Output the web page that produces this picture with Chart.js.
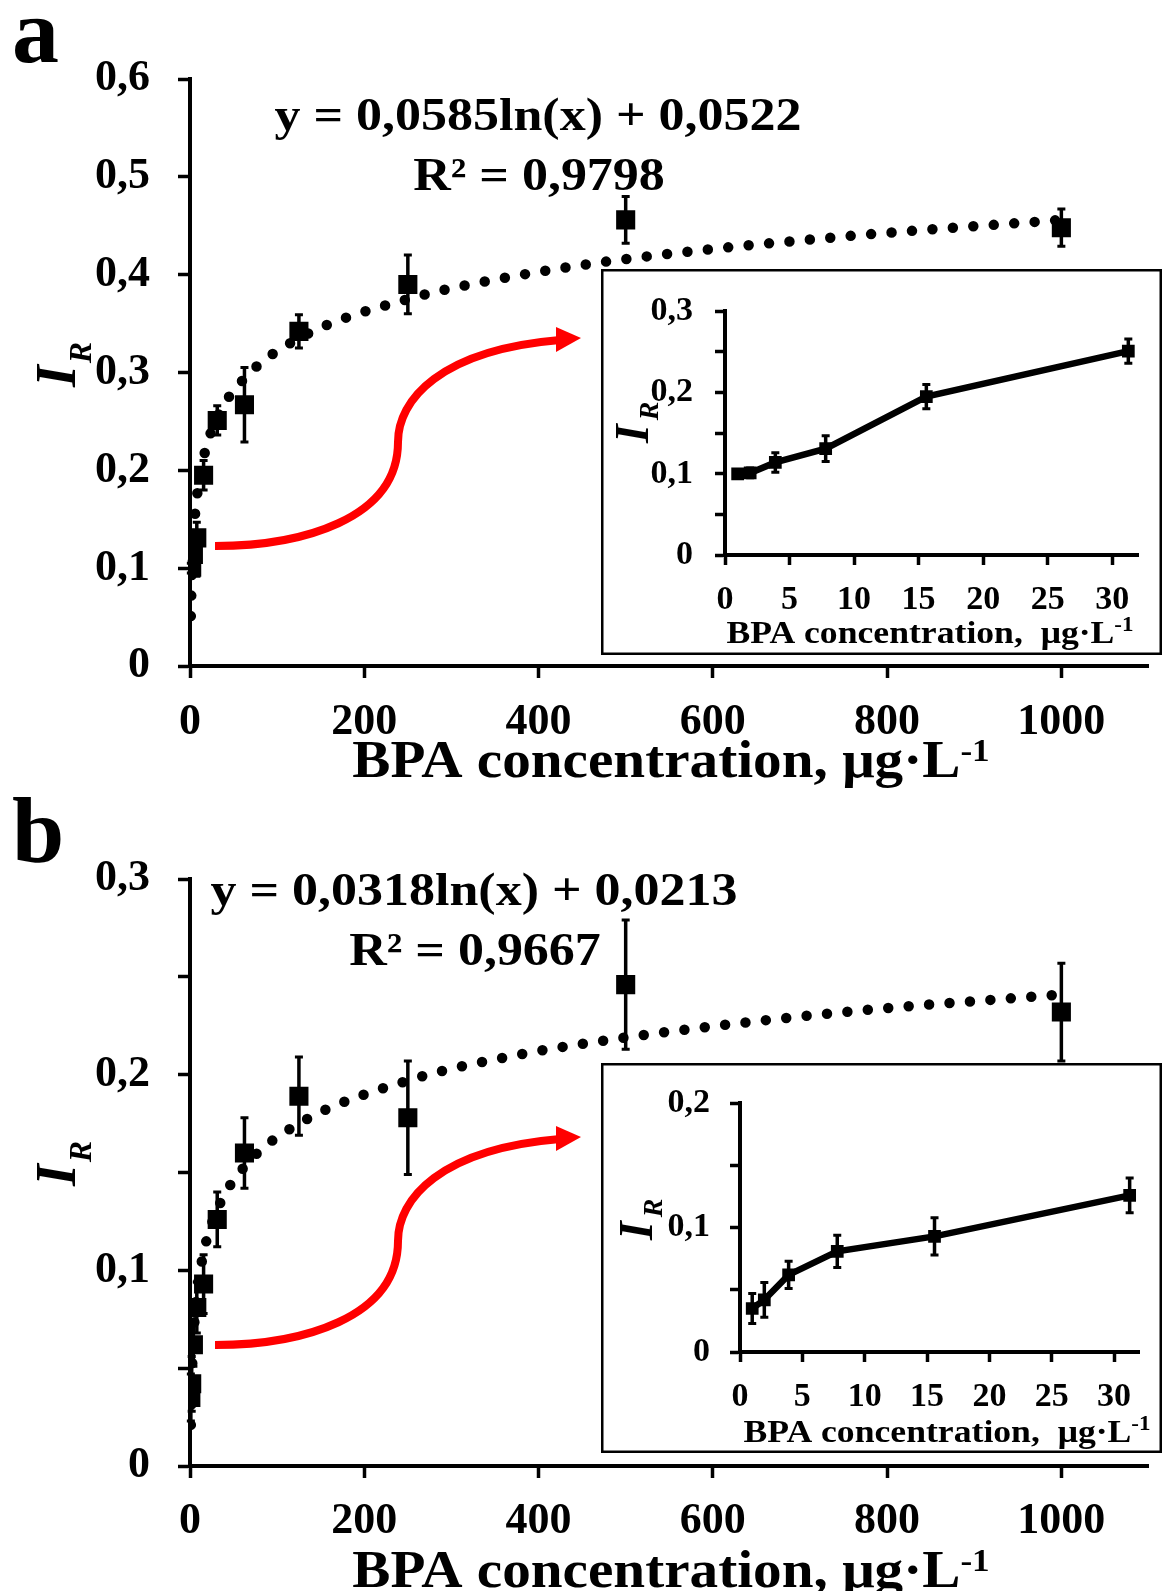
<!DOCTYPE html>
<html>
<head>
<meta charset="utf-8">
<script src="https://cdn.jsdelivr.net/npm/chart.js@4.4.1/dist/chart.umd.min.js"></script>
<style>
  html, body { margin: 0; padding: 0; background: #fff; }
  #page { position: relative; width: 1162px; height: 1591px; overflow: hidden; background: #fff; }
  canvas { position: absolute; }
  #mainA { left: 0; top: 0; }
  #mainB { left: 0; top: 790px; }
  #insetA { left: 601px; top: 269px; background: #fff; }
  #insetB { left: 601px; top: 1063px; background: #fff; }
</style>
</head>
<body>
<div id="page">
  <canvas id="mainA" width="1162" height="800"></canvas>
  <canvas id="mainB" width="1162" height="801"></canvas>
  <canvas id="insetA" width="561" height="386"></canvas>
  <canvas id="insetB" width="561" height="390"></canvas>
</div>
<script>
const SERIF = '"Liberation Serif", "Times New Roman", serif';

// BPA concentrations, µg/L
const conc = [0.98, 1.95, 3.9, 7.8, 15.6, 31.25, 62.5, 125, 250, 500, 1000];

// panel a
const irA = [0.100, 0.101, 0.114, 0.131, 0.195, 0.251, 0.267, 0.342, 0.390, 0.456, 0.448];
const errA = [0.005, 0.006, 0.012, 0.016, 0.015, 0.015, 0.038, 0.017, 0.030, 0.024, 0.019];

// panel b
const irB = [0.035, 0.042, 0.062, 0.081, 0.093, 0.126, 0.160, 0.189, 0.178, 0.246, 0.232];
const errB = [0.012, 0.014, 0.011, 0.013, 0.015, 0.014, 0.018, 0.020, 0.029, 0.033, 0.025];

// dotted log trendlines
const trendConc = [0.98, 1.95, 3.9, 7.8, 15.6, 31.25, 62.5, 125, 250, 375, 500, 750, 1000];
const trendA = [0.051, 0.091, 0.132, 0.172, 0.213, 0.254, 0.294, 0.335, 0.375, 0.399, 0.416, 0.439, 0.456];
const trendB = [0.021, 0.043, 0.065, 0.087, 0.109, 0.131, 0.153, 0.175, 0.197, 0.210, 0.219, 0.232, 0.241];

const equationA = ['y = 0,0585ln(x) + 0,0522', 'R² = 0,9798'];
const equationB = ['y = 0,0318ln(x) + 0,0213', 'R² = 0,9667'];

// insets zoom on the first six concentrations
const insetCount = 6;

// ticks
const mainXTicks = [0, 200, 400, 600, 800, 1000];
const mainXLabels = ['0', '200', '400', '600', '800', '1000'];
const mainYTicksA = [0, 0.1, 0.2, 0.3, 0.4, 0.5, 0.6];
const mainYLabelsA = ['0', '0,1', '0,2', '0,3', '0,4', '0,5', '0,6'];
const mainYTicksB = [0, 0.05, 0.1, 0.15, 0.2, 0.25, 0.3];
const mainYLabelsB = ['0', '', '0,1', '', '0,2', '', '0,3'];
const insetXTicks = [0, 5, 10, 15, 20, 25, 30];
const insetXLabels = ['0', '5', '10', '15', '20', '25', '30'];
const insetYTicksA = [0, 0.05, 0.1, 0.15, 0.2, 0.25, 0.3];
const insetYLabelsA = ['0', '', '0,1', '', '0,2', '', '0,3'];
const insetYTicksB = [0, 0.05, 0.1, 0.15, 0.2];
const insetYLabelsB = ['0', '', '0,1', '', '0,2'];

const xTitle = 'BPA concentration, μg·L';
const insetXTitle = 'BPA concentration,  μg·L';

function pts(xs, ys) {
  return xs.map((x, i) => ({ x: x, y: ys[i] }));
}

function bold(size) { return 'bold ' + size + 'px ' + SERIF; }
function boldItalic(size) { return 'italic bold ' + size + 'px ' + SERIF; }

// text in pieces (for super/subscripts), optionally widened
function drawRich(ctx, parts, x, y, align, sx) {
  ctx.save();
  ctx.translate(x, y);
  ctx.scale(sx || 1, 1);
  ctx.textAlign = 'left';
  ctx.textBaseline = 'alphabetic';
  ctx.fillStyle = '#000';
  let total = 0;
  const widths = parts.map(p => {
    ctx.font = p.font;
    const w = ctx.measureText(p.text).width + (p.dx || 0);
    total += w;
    return w;
  });
  let cx = align === 'center' ? -total / 2 : (align === 'right' ? -total : 0);
  parts.forEach((p, k) => {
    ctx.font = p.font;
    ctx.fillText(p.text, cx + (p.dx || 0), p.dy || 0);
    cx += widths[k];
  });
  ctx.restore();
}

function drawIR(ctx, x, y, iSize, rSize, drop, gap) {
  ctx.save();
  ctx.translate(x, y);
  ctx.rotate(-Math.PI / 2);
  drawRich(ctx, [
    { text: 'I', font: boldItalic(iSize) },
    { text: 'R', font: boldItalic(rSize), dy: drop, dx: gap }
  ], 0, 0, 'left', 1);
  ctx.restore();
}

function drawArrow(ctx, dy) {
  ctx.save();
  ctx.strokeStyle = '#ff0000';
  ctx.fillStyle = '#ff0000';
  ctx.lineWidth = 8;
  ctx.beginPath();
  ctx.moveTo(215, 546 + dy);
  ctx.bezierCurveTo(300, 546 + dy, 398, 520 + dy, 398, 442 + dy);
  ctx.bezierCurveTo(398, 400 + dy, 440, 350 + dy, 560, 340 + dy);
  ctx.stroke();
  ctx.beginPath();
  ctx.moveTo(581, 338 + dy);
  ctx.lineTo(556, 327 + dy);
  ctx.lineTo(556, 352 + dy);
  ctx.closePath();
  ctx.fill();
  ctx.restore();
}

function errorBars(lineWidth, cap) {
  return {
    id: 'errorBars',
    afterDatasetsDraw(chart) {
      const ctx = chart.ctx;
      const xs = chart.scales.x, ys = chart.scales.y;
      chart.data.datasets.forEach(ds => {
        if (!ds.errorBars) return;
        ctx.save();
        ctx.strokeStyle = '#000';
        ds.data.forEach((p, j) => {
          const e = ds.errorBars[j];
          const x = xs.getPixelForValue(p.x);
          const top = ys.getPixelForValue(p.y + e);
          const bot = ys.getPixelForValue(p.y - e);
          ctx.lineWidth = lineWidth;
          ctx.beginPath();
          ctx.moveTo(x, top);
          ctx.lineTo(x, bot);
          ctx.stroke();
          ctx.lineWidth = 3;
          ctx.beginPath();
          ctx.moveTo(x - cap / 2, top);
          ctx.lineTo(x + cap / 2, top);
          ctx.moveTo(x - cap / 2, bot);
          ctx.lineTo(x + cap / 2, bot);
          ctx.stroke();
        });
        ctx.restore();
      });
    }
  };
}

function axis(o) {
  return {
    type: 'linear',
    min: o.min,
    max: o.max,
    afterBuildTicks: scale => { scale.ticks = o.ticks.map(v => ({ value: v })); },
    afterFit: scale => {
      if (o.horizontal) scale.height = o.size; else scale.width = o.size;
    },
    grid: { drawOnChartArea: false, drawTicks: true, tickLength: o.tickLen, tickWidth: o.tickWidth, tickColor: '#000' },
    border: { display: true, color: '#000', width: o.axisWidth },
    ticks: {
      autoSkip: false, maxRotation: 0, minRotation: 0,
      padding: o.pad, color: '#000',
      font: { family: SERIF, size: o.fontSize, weight: 'bold' },
      callback: (v, i) => o.labels[i]
    }
  };
}

function baseOptions(padding, x, y) {
  return {
    responsive: false,
    animation: false,
    devicePixelRatio: 1,
    events: [],
    layout: { padding: padding },
    plugins: { legend: { display: false }, tooltip: { enabled: false } },
    scales: { x: x, y: y }
  };
}

function mainChart(id, o) {
  const decor = {
    id: 'decor',
    afterDraw(chart) {
      const ctx = chart.ctx;
      drawRich(ctx, [{ text: o.letter, font: bold(94) }], 12, o.letterY, 'left', 1);
      drawRich(ctx, [{ text: o.equation[0], font: bold(46) }], o.eqX, o.eqY, 'center', 1.13);
      drawRich(ctx, [{ text: o.equation[1], font: bold(46) }], o.eqX + 1, o.eqY + 60, 'center', 1.13);
      drawRich(ctx, [
        { text: xTitle, font: bold(52) },
        { text: '-1', font: bold(32), dy: -16 }
      ], 671, o.titleY, 'center', 1.1);
      drawIR(ctx, 75, o.irY, 56, 32, 16, 2);
      drawArrow(ctx, o.arrowDy);
    }
  };
  return new Chart(document.getElementById(id), {
    type: 'scatter',
    data: {
      datasets: [
        {
          data: pts(trendConc, o.trend),
          showLine: true,
          pointRadius: 0,
          borderColor: '#000',
          borderWidth: 10.5,
          borderDash: [0, 20.5],
          borderCapStyle: 'round',
          cubicInterpolationMode: 'monotone'
        },
        {
          data: pts(conc, o.ir),
          pointStyle: 'rect',
          pointRadius: 13.5,
          pointHoverRadius: 13.5,
          backgroundColor: '#000',
          borderWidth: 0,
          errorBars: o.err
        }
      ]
    },
    options: baseOptions(
      { top: o.top, right: 6, left: 0, bottom: 0 },
      axis({ horizontal: true, min: 0, max: 1100, ticks: mainXTicks, labels: mainXLabels, size: o.xHeight,
             tickLen: 12, tickWidth: 3.5, axisWidth: 4, pad: o.xPad, fontSize: 44 }),
      axis({ horizontal: false, min: 0, max: o.yMax, ticks: o.yTicks, labels: o.yLabels, size: 190,
             tickLen: 12, tickWidth: 3.5, axisWidth: 4, pad: 28, fontSize: 44 })
    ),
    plugins: [errorBars(3.5, 8), decor]
  });
}

function insetChart(id, o) {
  const decor = {
    id: 'decor',
    afterDraw(chart) {
      const ctx = chart.ctx;
      const w = chart.width, h = chart.height;
      ctx.save();
      ctx.strokeStyle = '#000';
      ctx.lineWidth = 2.5;
      ctx.strokeRect(1.25, 1.25, w - 2.5, h - 2.5);
      ctx.restore();
      drawRich(ctx, [
        { text: insetXTitle, font: bold(31) },
        { text: '-1', font: bold(20), dy: -12 }
      ], o.titleX, o.titleY, 'center', 1.15);
      drawIR(ctx, o.irX, o.irY, 48, 28, 10, 4);
    }
  };
  return new Chart(document.getElementById(id), {
    type: 'scatter',
    data: {
      datasets: [{
        data: pts(conc.slice(0, insetCount), o.ir.slice(0, insetCount)),
        showLine: true,
        borderColor: '#000',
        borderWidth: 6.5,
        pointStyle: 'rect',
        pointRadius: 9,
        pointHoverRadius: 9,
        pointBackgroundColor: '#000',
        pointBorderWidth: 0,
        errorBars: o.err.slice(0, insetCount)
      }]
    },
    options: baseOptions(
      { top: o.top, right: o.right, left: 0, bottom: 0 },
      axis({ horizontal: true, min: 0, max: 32, ticks: insetXTicks, labels: insetXLabels, size: o.xHeight,
             tickLen: 10, tickWidth: 3.5, axisWidth: 4, pad: 15, fontSize: 34 }),
      axis({ horizontal: false, min: 0, max: o.yMax, ticks: o.yTicks, labels: o.yLabels, size: o.yWidth,
             tickLen: 10, tickWidth: 3.5, axisWidth: 4, pad: o.yPad, fontSize: 34 })
    ),
    plugins: [errorBars(3.5, 8), decor]
  });
}

mainChart('mainA', {
  ir: irA, err: errA, trend: trendA, equation: equationA,
  yMax: 0.6, yTicks: mainYTicksA, yLabels: mainYLabelsA,
  top: 79, xHeight: 134, xPad: 18,
  letter: 'a', letterY: 62, eqX: 538, eqY: 130, titleY: 777, irY: 387, arrowDy: 0
});

mainChart('mainB', {
  ir: irB, err: errB, trend: trendB, equation: equationB,
  yMax: 0.3, yTicks: mainYTicksB, yLabels: mainYLabelsB,
  top: 89, xHeight: 125, xPad: 17,
  letter: 'b', letterY: 72, eqX: 474, eqY: 115, titleY: 797, irY: 396, arrowDy: 9
});

insetChart('insetA', {
  ir: irA, err: errA, yMax: 0.3, yTicks: insetYTicksA, yLabels: insetYLabelsA,
  top: 22, right: 24, xHeight: 100, yWidth: 124, yPad: 22,
  titleX: 329, titleY: 374, irX: 47, irY: 174
});

insetChart('insetB', {
  ir: irB, err: errB, yMax: 0.2, yTicks: insetYTicksB, yLabels: insetYLabelsB,
  top: 20, right: 23, xHeight: 101, yWidth: 139, yPad: 20,
  titleX: 346, titleY: 379, irX: 51, irY: 177
});
</script>
</body>
</html>
